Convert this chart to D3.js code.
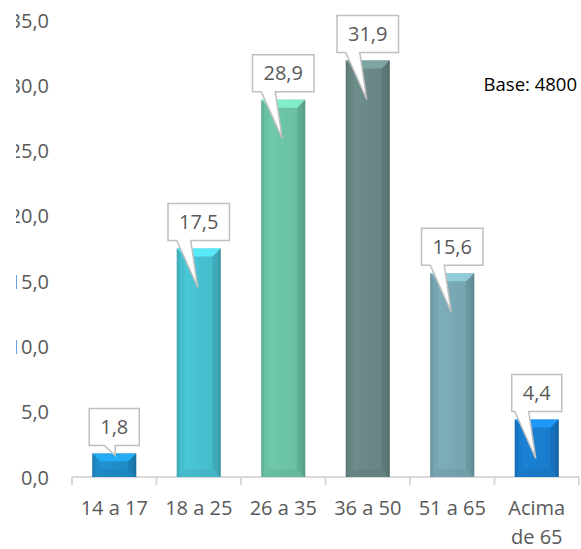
<!DOCTYPE html>
<html><head><meta charset="utf-8">
<script src="https://cdn.jsdelivr.net/npm/d3@7/dist/d3.min.js"></script>
<style>body{margin:0;background:#fff}svg{display:block}</style>
</head><body>
<svg id="chart" width="581" height="549"></svg>
<script>
const categories = [["14 a 17"],["18 a 25"],["26 a 35"],["36 a 50"],["51 a 65"],["Acima","de 65"]];
const values = [1.8, 17.5, 28.9, 31.9, 15.6, 4.4];
const yTicks = [0,5,10,15,20,25,30,35];
const baseColors = ["#1f8ecb","#48c2d2","#6cc5a5","#6a8987","#79a9b5","#1a7ed0"];
const baseNote = "Base: 4800";

const W = 581, H = 549;
const svg = d3.select("#chart");
const font = "'Open Sans', sans-serif";
const txt = "#595959";
const fmt = d => d.toFixed(1).replace(".", ",");

const keys = categories.map(c => c.join(" "));
const x = d3.scaleBand().domain(keys).range([72, 579]).paddingInner(0.48).paddingOuter(0.24);
const y = d3.scaleLinear().domain([0, 35]).range([477, 20]);

const defs = svg.append("defs");
defs.append("clipPath").attr("id","clipL").append("rect").attr("x",16).attr("y",0).attr("width",W).attr("height",H);

baseColors.forEach((c, i) => {
  const base = d3.color(c);
  const g = defs.append("linearGradient").attr("id","g"+i).attr("x1","0").attr("x2","1").attr("y1","0").attr("y2","0");
  g.append("stop").attr("offset","0").attr("stop-color", base.darker(0.5));
  g.append("stop").attr("offset","0.1").attr("stop-color", base.brighter(0.1));
  g.append("stop").attr("offset","0.5").attr("stop-color", base);
  g.append("stop").attr("offset","0.9").attr("stop-color", base.darker(0.1));
  g.append("stop").attr("offset","1").attr("stop-color", base.darker(0.7));
});

// y axis labels (clipped at left like the reference)
const clipWrap = svg.append("g").attr("clip-path","url(#clipL)");
const yAxis = d3.axisLeft(y).tickValues(yTicks).tickFormat(fmt).tickSize(0).tickPadding(0);
const gy = clipWrap.append("g").attr("transform","translate(49,0)").call(yAxis);
gy.select(".domain").remove();
gy.selectAll("text").attr("font-family",font).attr("font-size",20).attr("fill",txt).attr("dy","0.35em");

// x axis
const xAxis = d3.axisBottom(x).tickSize(0).tickFormat("");
const gx = svg.append("g").attr("transform","translate(0,477)").call(xAxis);
gx.select(".domain").attr("stroke","#d9d9d9").attr("stroke-width",2).attr("d","M72,0H579");
const bounds = [72, ...keys.map(k => x(k) + x.bandwidth()/2 + x.step()/2)];
gx.selectAll(".sep").data(bounds).enter().append("line").attr("class","sep")
  .attr("x1",d=>d).attr("x2",d=>d).attr("y1",0).attr("y2",8).attr("stroke","#d9d9d9").attr("stroke-width",2);

// category labels
const cl = svg.append("g");
categories.forEach((lines, i) => {
  const cx = x(keys[i]) + x.bandwidth()/2;
  const t = cl.append("text").attr("x", cx).attr("y", 515)
    .attr("text-anchor","middle").attr("font-family",font).attr("font-size",20).attr("fill",txt);
  lines.forEach((ln, j) => t.append("tspan").attr("x", cx).attr("dy", j ? 29 : 0).text(ln));
});

// bars
const bars = svg.append("g");
values.forEach((v, i) => {
  const bx = x(keys[i]), bw = x.bandwidth(), top = y(v), bot = y(0), h = bot - top;
  const base = d3.color(baseColors[i]);
  const bev = Math.min(8, h/3);
  const g = bars.append("g");
  g.append("rect").attr("x",bx).attr("y",top).attr("width",bw).attr("height",h).attr("fill","url(#g"+i+")");
  g.append("path").attr("d",`M${bx},${top}H${bx+bw}L${bx+bw-bev},${top+bev}H${bx+bev}Z`).attr("fill", base.brighter(0.6)).attr("opacity",0.85);
  g.append("path").attr("d",`M${bx},${bot}H${bx+bw}L${bx+bw-bev},${bot-bev}H${bx+bev}Z`).attr("fill", base.darker(0.3)).attr("opacity",0.5);
  g.append("path").attr("d",`M${bx},${top}L${bx+bev},${top+bev}V${bot-bev}L${bx},${bot}Z`).attr("fill", base.darker(0.3)).attr("opacity",0.35);
  g.append("path").attr("d",`M${bx+bw},${top}L${bx+bw-bev},${top+bev}V${bot-bev}L${bx+bw},${bot}Z`).attr("fill", base.darker(0.7)).attr("opacity",0.45);
});

// callouts
const co = svg.append("g");
values.forEach((v, i) => {
  const cx = x(keys[i]) + x.bandwidth()/2;
  const top = y(v), h = y(0) - top;
  const t = co.append("text").attr("x", cx).attr("font-family",font).attr("font-size",20).attr("fill",txt)
    .attr("text-anchor","middle").text(fmt(v));
  const tw = t.node().getComputedTextLength();
  const bw = tw + 22, bh = 37;
  const y1 = top - 8, y0 = y1 - bh;
  const x0 = cx - bw/2, x1 = cx + bw/2;
  let tl, tr, tipX, tipY;
  if (h > 40) { tl = cx - 22; tr = cx - 8; tipX = cx - 1; tipY = top + 39; }
  else { tl = cx - 10; tr = cx + 1; tipX = cx + 1; tipY = top + 2; }
  co.insert("path", "text").attr("d", `M${x0},${y0}H${x1}V${y1}H${tr}L${tipX},${tipY}L${tl},${y1}H${x0}Z`)
    .attr("fill","#fff").attr("stroke","#bfbfbf").attr("stroke-width",1.5);
  t.attr("y", (y0 + y1)/2).attr("dy","0.36em");
});

// base note
svg.append("text").attr("x", 577).attr("y", 85).attr("dy","0.35em").attr("text-anchor","end")
  .attr("font-family",font).attr("font-size",18.5).attr("fill","#000").text(baseNote);
</script>
</body></html>
